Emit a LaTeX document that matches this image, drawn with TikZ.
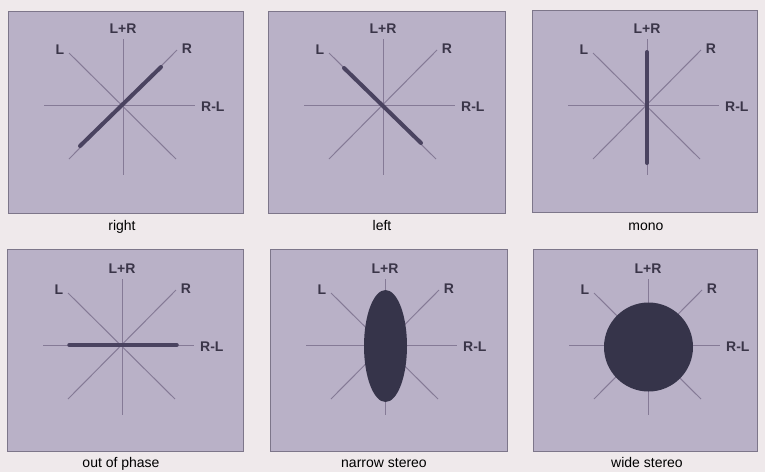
\documentclass[tikz,border=0pt]{standalone}
\usepackage{fontspec}
\setmainfont{Liberation Sans}
\usetikzlibrary{positioning}
\definecolor{pagebg}{HTML}{EFE9EB}
\definecolor{panelbg}{HTML}{B9B1C7}
\definecolor{panelrule}{HTML}{7D768A}
\definecolor{axisline}{HTML}{857A96}
\definecolor{labeltext}{HTML}{3A3548}
\definecolor{trace}{HTML}{4A4360}
\definecolor{blob}{HTML}{36344A}

\begin{document}
\begin{tikzpicture}[x=1pt,y=-1pt,
  panel/.style={fill=panelbg,draw=panelrule,line width=0.8pt},
  axis/.style={draw=axisline,line width=1pt},
  axislabel/.style={text=labeltext,font=\fontsize{14}{16}\selectfont\bfseries,inner sep=0pt},
  caption/.style={text=black,font=\fontsize{14}{16}\selectfont,inner sep=0pt,anchor=base},
  tracewide/.style={draw=trace,line width=4pt,line cap=round},
  blobfill/.style={fill=blob,draw=none}]
\useasboundingbox[fill=pagebg] (0,0) rectangle (765,472);
% six vectorscope panels
\foreach \n/\bx/\by/\bw/\dy/\cy/\txt in {1/8/11/235/94/230/right,2/268/11/237/94/230/left,3/532/10/225/95/230/mono,
  4/7/249/236/96/467/out of phase,5/270/249/237/96/467/narrow stereo,6/533/249/224/96/467/wide stereo}{
  \draw[panel] (\bx,\by) rectangle ++(\bw,202);
  \coordinate (c\n) at (\bx+115,\by+\dy);
  \draw[axis] ([shift={(0,-66)}]c\n) -- ([shift={(0,70)}]c\n);
  \draw[axis] ([shift={(-79,0)}]c\n) -- ([shift={(72,0)}]c\n);
  \draw[axis] ([shift={(-54,-52)}]c\n) -- ([shift={(53,54)}]c\n);
  \draw[axis] ([shift={(-54,54)}]c\n) -- ([shift={(54,-55)}]c\n);
  \node[axislabel] (sum\n) at ([shift={(0,-76)}]c\n) {L+R};
  \node[axislabel] (l\n) at ([shift={(-63,-55)}]c\n) {L};
  \node[axislabel] (r\n) at ([shift={(64,-56)}]c\n) {R};
  \node[axislabel,anchor=west] (diff\n) at ([shift={(78,2)}]c\n) {R-L};
  \node[caption] (cap\n) at (\bx+114,\cy) {\txt};
}
% traces
\draw[tracewide] ([shift={(-43,41)}]c1) -- ([shift={(38,-38)}]c1);
\draw[tracewide] ([shift={(-39,-37)}]c2) -- ([shift={(38,38)}]c2);
\draw[tracewide] ([shift={(0,-53)}]c3) -- ([shift={(0,58)}]c3);
\draw[tracewide,line width=3.5pt] ([shift={(-53,0)}]c4) -- ([shift={(55,0)}]c4);
\fill[blobfill] ([shift={(0.5,1)}]c5) ellipse [x radius=21.5pt,y radius=56pt];
\fill[blobfill] ([shift={(0.5,2)}]c6) circle [radius=44.5pt];
\end{tikzpicture}
\end{document}
